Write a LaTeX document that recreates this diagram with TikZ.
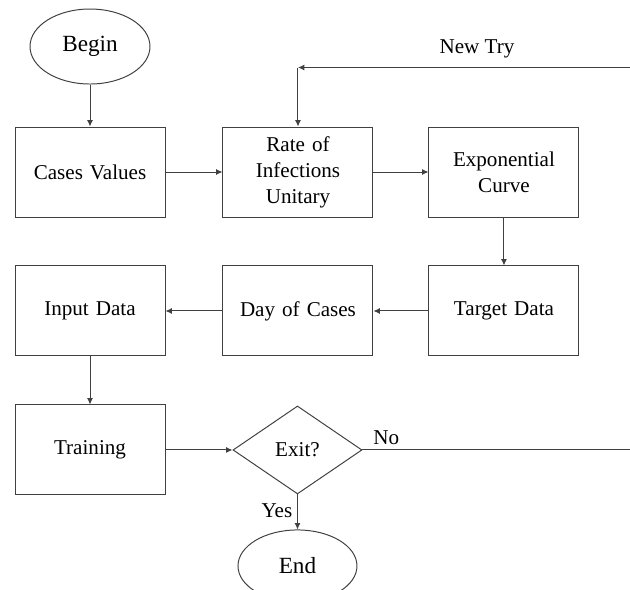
\documentclass[tikz,border=0pt]{standalone}
\usepackage{fontspec}
\setmainfont{Liberation Serif}
\usetikzlibrary{calc,positioning,shapes.geometric,arrows.meta}
\tikzset{line/.style={draw=black!75, line width=0.7pt, -{Latex[length=1.6mm,width=1.5mm]}}}

\begin{document}
\begin{tikzpicture}[font=\fontsize{15}{18.5}\selectfont]
\tikzstyle{block} = [rectangle, draw=black!75, line width=0.7pt, text width=3.4cm, text centered, minimum width=3.75cm, minimum height=2.25cm]
\tikzstyle{term} = [ellipse, draw=black!75, line width=0.7pt, font=\fontsize{16.5}{19}\selectfont, minimum width=3cm, minimum height=1.875cm]
\tikzstyle{decision} = [diamond, draw=black!75, line width=0.7pt, aspect=1.47, inner sep=1pt, minimum width=3.225cm, minimum height=2.2cm]

\clip (-2.25,4.3) rectangle (13.5,-10.45);
% blocks
    % first row
    \node [block] (cases) at (0,0) {Cases Values};
    \node [term, above=1.05cm of cases] (begin) {Begin};
    \node [block, right=1.425cm of cases] (rate) {Rate of\\ Infections\\ Unitary};
    \node [block, right=1.375cm of rate] (expo) {Exponential\\ Curve};
    % second row
    \node [block, below=1.2cm of expo] (target) {Target Data};
    \node [block, left=1.375cm of target] (day) {Day of Cases};
    \node [block, left=1.425cm of day] (input) {Input Data};
    % third row
    \node [block, below=1.2cm of input] (training) {Training};
    \node [decision, right=1.675cm of training] (exit) {Exit?};
    \node [term, below=0.875cm of exit, minimum width=2.975cm, minimum height=1.8cm] (end) {End};
    % loop back
    \coordinate [above right=1.475cm and 1.325cm of expo.north east] (tryend);
    \coordinate (trycorner) at (tryend -| rate.north);
    \coordinate (noend) at (exit.east -| tryend);
    \node [above=0.1cm] (newtry) at ($(trycorner)!0.535!(tryend)$) {New Try};
    \node [anchor=south west, xshift=0.15cm] (no) at (exit.east) {No};
% arrows
    \path [line] (begin) -- (cases);
    \path [line] (cases) -- (rate);
    \path [line] (rate) -- (expo);
    \path [line] (expo) -- (target);
    \path [line] (target) -- (day);
    \path [line] (day) -- (input);
    \path [line] (input) -- (training);
    \path [line] (training) -- (exit);
    \path [line] (exit) -- node [left, pos=0.45] (yes) {Yes} (end);
    \path [line] (tryend) -- (trycorner);
    \path [line] (trycorner) -- (rate);
    \path [draw=black!75, line width=0.7pt] (exit) -- (noend);
\end{tikzpicture}
\end{document}
